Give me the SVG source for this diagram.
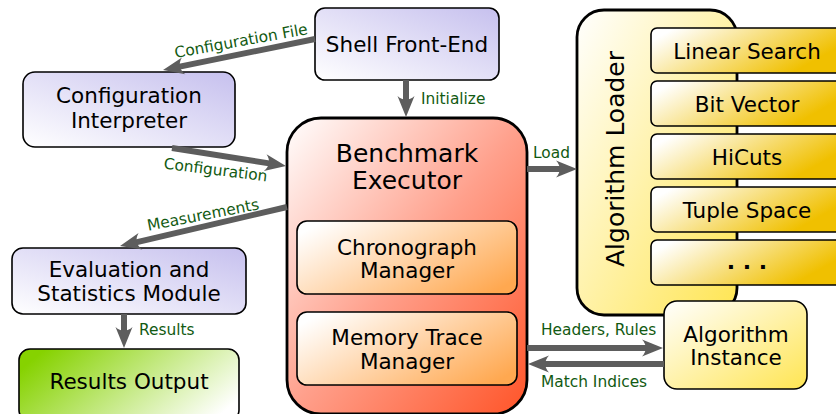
<svg xmlns="http://www.w3.org/2000/svg" width="836" height="414" viewBox="0 0 836 414">
  <style>
    .node { stroke: #000; stroke-width: 1.6; }
    .frame { stroke: #000; stroke-width: 2.8; }
    .txt { font-family: "DejaVu Sans", "Liberation Sans", sans-serif; font-size: 21.5px; fill: #000; text-anchor: middle; }
    .big { font-size: 25px; }
    .lbl { font-family: "DejaVu Sans", "Liberation Sans", sans-serif; font-size: 15.4px; fill: #125a12; }
    .mid { text-anchor: middle; }
    .wire { stroke: #5d5d5d; stroke-width: 6; fill: none; marker-end: url(#head); }
  </style>
  <defs>
    <marker id="head" markerUnits="userSpaceOnUse" orient="auto" refX="-12" refY="0" markerWidth="24" markerHeight="18" overflow="visible">
      <path d="M0,0 L-21,-8.5 C-16,-3 -16,3 -21,8.5 Z" fill="#5d5d5d"/>
    </marker>
    <linearGradient id="lavender" x1="0" y1="1" x2="1" y2="0">
      <stop offset="0" stop-color="#ffffff"/>
      <stop offset="1" stop-color="#c6c0ee"/>
    </linearGradient>
    <linearGradient id="coral" x1="0" y1="0" x2="1" y2="1">
      <stop offset="0" stop-color="#ffffff"/>
      <stop offset="0.5" stop-color="#ffa08c"/>
      <stop offset="1" stop-color="#ff5428"/>
    </linearGradient>
    <linearGradient id="peach" x1="0" y1="0.2" x2="1" y2="0.8">
      <stop offset="0" stop-color="#ffffff"/>
      <stop offset="1" stop-color="#ffa850"/>
    </linearGradient>
    <linearGradient id="cream" x1="0" y1="0" x2="1" y2="1">
      <stop offset="0" stop-color="#ffffff"/>
      <stop offset="1" stop-color="#ffe552"/>
    </linearGradient>
    <linearGradient id="gold" x1="0" y1="0.3" x2="1" y2="0.7">
      <stop offset="0" stop-color="#ffffff"/>
      <stop offset="0.85" stop-color="#f0c000"/>
      <stop offset="1" stop-color="#f0c000"/>
    </linearGradient>
    <linearGradient id="lime" x1="0" y1="0.3" x2="1" y2="0.7">
      <stop offset="0" stop-color="#86d200"/>
      <stop offset="1" stop-color="#ffffff"/>
    </linearGradient>
  </defs>

  <!-- left column -->
  <g id="shell-front-end">
    <rect class="node" x="315" y="8" width="184" height="72" rx="10" fill="url(#lavender)"/>
    <text class="txt" x="407" y="52">Shell Front-End</text>
  </g>
  <g id="configuration-interpreter">
    <rect class="node" x="23" y="72" width="212" height="75" rx="12" fill="url(#lavender)"/>
    <text class="txt" x="129" y="103">Configuration</text>
    <text class="txt" x="129" y="128">Interpreter</text>
  </g>
  <g id="evaluation-statistics">
    <rect class="node" x="12" y="248" width="234" height="66" rx="11" fill="url(#lavender)"/>
    <text class="txt" x="129" y="277">Evaluation and</text>
    <text class="txt" x="129" y="301">Statistics Module</text>
  </g>
  <g id="results-output">
    <rect class="node" x="19" y="349" width="220" height="72" rx="11" fill="url(#lime)"/>
    <text class="txt" x="129" y="389">Results Output</text>
  </g>

  <!-- executor with its managers -->
  <g id="benchmark-executor">
    <rect class="frame" x="287" y="118" width="240" height="296" rx="34" fill="url(#coral)"/>
    <text class="txt big" x="407" y="162">Benchmark</text>
    <text class="txt big" x="407" y="189">Executor</text>
  </g>
  <g id="chronograph-manager">
    <rect class="node" x="297" y="221" width="220" height="73" rx="10" fill="url(#peach)"/>
    <text class="txt" x="407" y="255">Chronograph</text>
    <text class="txt" x="407" y="278">Manager</text>
  </g>
  <g id="memory-trace-manager">
    <rect class="node" x="297" y="312" width="220" height="73" rx="10" fill="url(#peach)"/>
    <text class="txt" x="407" y="345">Memory Trace</text>
    <text class="txt" x="407" y="369">Manager</text>
  </g>

  <!-- algorithm loader and its algorithms -->
  <g id="algorithm-loader">
    <rect class="frame" x="577" y="10" width="160" height="305" rx="27" fill="url(#cream)"/>
    <text class="txt big" transform="translate(624,159) rotate(-90)" x="0" y="0">Algorithm Loader</text>
  </g>
  <g id="linear-search">
    <rect class="node" x="651" y="28" width="200" height="45" rx="6" fill="url(#gold)"/>
    <text class="txt" x="747" y="59">Linear Search</text>
  </g>
  <g id="bit-vector">
    <rect class="node" x="651" y="81" width="200" height="45" rx="6" fill="url(#gold)"/>
    <text class="txt" x="747" y="112">Bit Vector</text>
  </g>
  <g id="hicuts">
    <rect class="node" x="651" y="134" width="200" height="45" rx="6" fill="url(#gold)"/>
    <text class="txt" x="747" y="165">HiCuts</text>
  </g>
  <g id="tuple-space">
    <rect class="node" x="651" y="187" width="200" height="45" rx="6" fill="url(#gold)"/>
    <text class="txt" x="747" y="218">Tuple Space</text>
  </g>
  <g id="more-algorithms">
    <rect class="node" x="651" y="240" width="200" height="45" rx="6" fill="url(#gold)"/>
    <text class="txt" x="747" y="269" style="font-weight:bold;font-size:22px">. . .</text>
  </g>
  <g id="algorithm-instance">
    <rect class="node" x="664" y="301" width="143" height="88" rx="13" fill="url(#cream)"/>
    <text class="txt" x="736" y="342">Algorithm</text>
    <text class="txt" x="736" y="365">Instance</text>
  </g>

  <!-- connectors -->
  <g id="connectors">
    <line class="wire" x1="315" y1="39" x2="174.8" y2="67.6"/>
    <line class="wire" x1="172" y1="148" x2="274.1" y2="164.1"/>
    <line class="wire" x1="287" y1="207" x2="131.7" y2="243.3"/>
    <line class="wire" x1="406" y1="80" x2="406" y2="105"/>
    <line class="wire" x1="527" y1="169" x2="565" y2="169"/>
    <line class="wire" x1="527" y1="348" x2="651" y2="348"/>
    <line class="wire" x1="664" y1="364" x2="540" y2="364"/>
    <line class="wire" x1="124" y1="314" x2="124" y2="336"/>

    <text class="lbl mid" transform="translate(242,46) rotate(-10.2)">Configuration File</text>
    <text class="lbl mid" transform="translate(215,175) rotate(7.1)">Configuration</text>
    <text class="lbl mid" transform="translate(204,220) rotate(-11)">Measurements</text>
    <text class="lbl" x="421" y="104">Initialize</text>
    <text class="lbl" x="533" y="158">Load</text>
    <text class="lbl" x="541" y="335">Headers, Rules</text>
    <text class="lbl" x="541" y="387">Match Indices</text>
    <text class="lbl" x="139" y="335">Results</text>
  </g>
</svg>
